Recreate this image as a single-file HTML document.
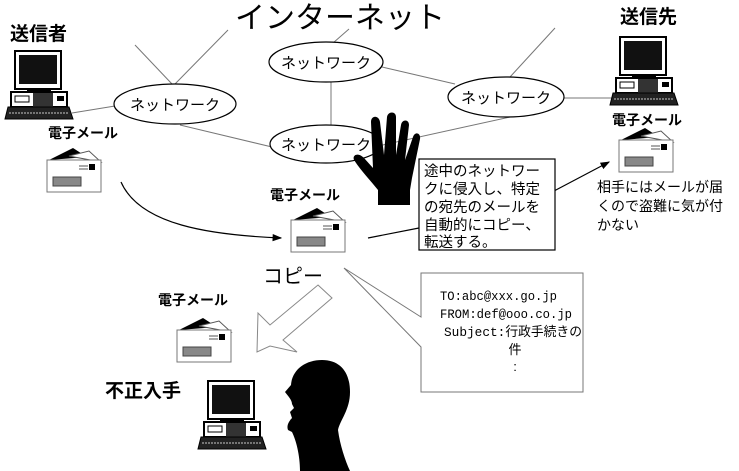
<!DOCTYPE html>
<html><head><meta charset="utf-8"><style>
body{margin:0;background:#fff}
svg{display:block}
text{font-family:"Liberation Sans","Noto Sans CJK JP",sans-serif;fill:#000}
text.b{font-weight:bold}
text.m{font-family:"Liberation Mono","Noto Sans CJK JP",monospace}
</style></head><body>
<svg width="739" height="471" viewBox="0 0 739 471" xmlns="http://www.w3.org/2000/svg">
<defs>
<g id="pc">
<rect x="10" y="0" width="46" height="38" fill="#fff" stroke="#000" stroke-width="2"/>
<rect x="14" y="4" width="38" height="29" fill="#111"/>
<rect x="22" y="38" width="24" height="3" fill="#000"/>
<rect x="6" y="41" width="56" height="15" fill="#fff" stroke="#000" stroke-width="2"/>
<rect x="10" y="45" width="14" height="6" fill="none" stroke="#000"/>
<rect x="28" y="42" width="20" height="14" fill="#333"/>
<rect x="52" y="45" width="7" height="5" fill="#000"/>
<polygon points="3,56 64,56 68,68 0,68" fill="#222" stroke="#000"/>
<line x1="4" y1="62" x2="64" y2="62" stroke="#fff" stroke-width="0.7" stroke-dasharray="2 1"/>
</g>
<g id="env">
<polygon points="2,12 26,0 40,9" fill="#000"/>
<polygon points="22,8 42,3 54,14" fill="#fff" stroke="#555"/>
<rect x="0" y="12" width="54" height="32" fill="#fff" stroke="#777"/>
<rect x="42" y="16" width="6" height="6" fill="#000"/>
<line x1="32" y1="18" x2="41" y2="18" stroke="#555"/><line x1="32" y1="21" x2="41" y2="21" stroke="#555"/>
<rect x="6" y="29" width="28" height="9" fill="#888" stroke="#444"/>
</g>
<marker id="ah" markerWidth="8" markerHeight="8" refX="7" refY="4" orient="auto"><path d="M0,1 L8,4 L0,7z" fill="#000"/></marker>
</defs>

<text x="340" y="28" font-size="30" text-anchor="middle">インターネット</text>

<g stroke="#777" stroke-width="1" fill="none">
<line x1="135" y1="45" x2="172" y2="84"/>
<line x1="228" y1="30" x2="175" y2="84"/>
<line x1="72" y1="113" x2="115" y2="106"/>
<line x1="180" y1="125" x2="272" y2="147"/>
<line x1="349" y1="29" x2="333" y2="43"/>
<line x1="331" y1="82" x2="331" y2="126"/>
<line x1="382" y1="67" x2="455" y2="84"/>
<line x1="555" y1="28" x2="510" y2="77"/>
<line x1="564" y1="98" x2="612" y2="98"/>
<line x1="378" y1="146" x2="510" y2="117"/>
</g>
<g fill="#fff" stroke="#000" stroke-width="1.2">
<ellipse cx="175" cy="104" rx="61" ry="20"/>
<ellipse cx="326" cy="62" rx="57" ry="20"/>
<ellipse cx="326" cy="144" rx="56" ry="19"/>
<ellipse cx="506" cy="97" rx="58" ry="20"/>
</g>
<g font-size="15" text-anchor="middle">
<text x="175" y="110">ネットワーク</text>
<text x="326" y="68">ネットワーク</text>
<text x="326" y="150">ネットワーク</text>
<text x="506" y="103">ネットワーク</text>
</g>

<path d="M378,205 L378,190 C370,180 362,172 354,160 C352,155 358,152 364,158 L373,168 L371,122 C371,115 379,115 380,122 L384,155 L387,117 C388,111 396,111 396,117 L396,155 L401,125 C402,119 409,119 409,125 L405,160 L413,137 C415,131 421,133 420,139 L412,178 L410,190 L410,205 Z" fill="#000"/>

<text x="10" y="40" font-size="19" class="b">送信者</text>
<text x="620" y="23" font-size="19" class="b">送信先</text>
<use href="#pc" x="5" y="51"/>
<use href="#pc" x="610" y="37"/>
<use href="#pc" x="198" y="381"/>

<text x="48" y="138" font-size="14" class="b">電子メール</text>
<text x="612" y="125" font-size="14" class="b">電子メール</text>
<text x="270" y="200" font-size="14" class="b">電子メール</text>
<text x="158" y="305" font-size="14" class="b">電子メール</text>
<use href="#env" x="47" y="148"/>
<use href="#env" x="619" y="128"/>
<use href="#env" x="291" y="208"/>
<use href="#env" x="177" y="318"/>

<path d="M121,182 C140,225 210,235 281,238" fill="none" stroke="#000" stroke-width="1.2" marker-end="url(#ah)"/>
<line x1="368" y1="238" x2="419" y2="228" stroke="#000" stroke-width="1.2"/>
<line x1="554" y1="191" x2="609" y2="162" stroke="#000" stroke-width="1.2" marker-end="url(#ah)"/>

<rect x="419" y="159" width="136" height="91" fill="#fff" stroke="#000" stroke-width="1.2"/>
<g font-size="14.5">
<text x="424" y="176">途中のネットワー</text>
<text x="424" y="194">クに侵入し、特定</text>
<text x="424" y="212">の宛先のメールを</text>
<text x="424" y="230">自動的にコピー、</text>
<text x="424" y="247">転送する。</text>
</g>
<g font-size="14">
<text x="597" y="192">相手にはメールが届</text>
<text x="597" y="211">くので盗難に気が付</text>
<text x="597" y="230">かない</text>
</g>

<text x="263" y="283" font-size="20">コピー</text>
<polygon points="318,285 332,298 283,340 297,352 270,346 257,352 258,313 270,325" fill="#fff" stroke="#888" stroke-width="1"/>

<polygon points="421,273 583,273 583,392 421,392 421,347 344,268 421,317" fill="#fff" stroke="#777" stroke-width="1"/>
<text x="440" y="300" font-size="13" class="m" textLength="117" lengthAdjust="spacingAndGlyphs">TO:abc@xxx.go.jp</text>
<text x="440" y="318" font-size="13" class="m" textLength="132" lengthAdjust="spacingAndGlyphs">FROM:def@ooo.co.jp</text>
<text x="444" y="336" font-size="13" class="m" textLength="138" lengthAdjust="spacingAndGlyphs">Subject:行政手続きの</text>
<text x="515" y="354" font-size="13" text-anchor="middle">件</text>
<text x="515" y="371" font-size="13" text-anchor="middle">:</text>

<text x="105" y="397" font-size="19" class="b">不正入手</text>

<path d="M300,471 C300,455 296,440 292,432 L288,430 C286,425 290,420 292,418 L290,412 L294,408 L292,404 C292,400 288,396 285,392 L291,385 C292,370 305,360 322,360 C340,360 350,372 350,392 C350,410 340,420 338,430 C340,445 345,460 350,471 Z" fill="#000"/>
</svg>
</body></html>
